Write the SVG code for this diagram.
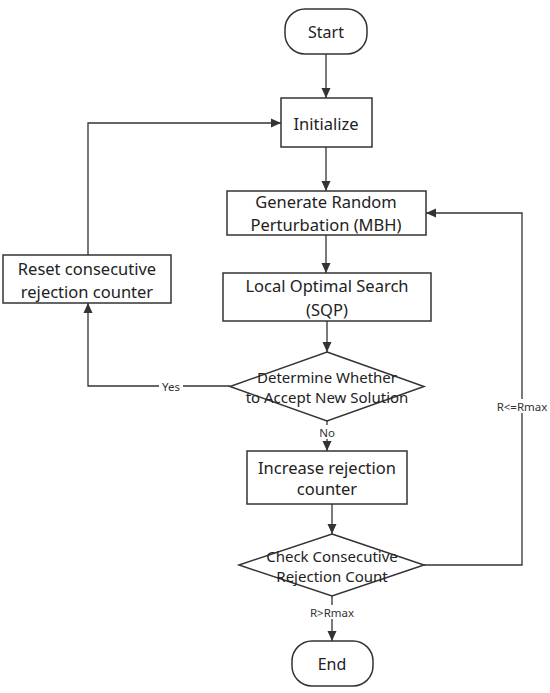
<svg xmlns="http://www.w3.org/2000/svg" width="550" height="693" viewBox="0 0 550 693">
<defs>
<marker id="arr" viewBox="0 0 10 10" refX="10" refY="5" markerWidth="10" markerHeight="10" markerUnits="userSpaceOnUse" orient="auto">
<path d="M0,0.5 L10,5 L0,9.5 Z" fill="#333"/>
</marker>
</defs>
<style>
.n{fill:#fff;stroke:#333;stroke-width:1.5}
.t{font-family:"Noto Sans","Open Sans",sans-serif;font-size:16.5px;fill:#222;text-anchor:middle;dominant-baseline:central}
.d{font-size:15px}
.e{font-size:16px}
.c{fill:none;stroke:#333;stroke-width:1.3;marker-end:url(#arr)}
.l{font-family:"Noto Sans","Open Sans",sans-serif;font-size:11.5px;fill:#333;text-anchor:middle;dominant-baseline:central}
.bg{fill:#fff}
</style>
<rect width="550" height="693" fill="#fff"/>
<g id="connectors">
<path class="c" d="M326,54 V98"/>
<path class="c" d="M326,147 V191"/>
<path class="c" d="M326,235 V273"/>
<path class="c" d="M327,321 V352"/>
<path class="c" d="M327,421 V451"/>
<path class="c" d="M332,504 V534"/>
<path class="c" d="M332,596 V641"/>
<path class="c" d="M230,386 H88 V303"/>
<path class="c" d="M88,255 V123 H281"/>
<path class="c" d="M424,565 H522 V213 H426"/>
<rect class="bg" x="159" y="379" width="24" height="14"/>
<text class="l" x="171" y="386">Yes</text>
<rect class="bg" x="316" y="425" width="22" height="14"/>
<text class="l" x="327" y="432">No</text>
<rect class="bg" x="308" y="605" width="48" height="14"/>
<text class="l" x="332" y="612">R&gt;Rmax</text>
<rect class="bg" x="494" y="399" width="56" height="14"/>
<text class="l" x="522" y="406">R&lt;=Rmax</text>
</g>
<g id="start">
<rect class="n" x="285" y="9" width="82" height="45" rx="20"/>
<text class="t e" x="326" y="32">Start</text>
</g>
<g id="initialize">
<rect class="n" x="281" y="98" width="91" height="49"/>
<text class="t" x="326" y="123">Initialize</text>
</g>
<g id="generate">
<rect class="n" x="227" y="191" width="199" height="44"/>
<text class="t" x="326" y="201.5">Generate Random</text>
<text class="t" x="326" y="224.5">Perturbation (MBH)</text>
</g>
<g id="local">
<rect class="n" x="223" y="273" width="208" height="48"/>
<text class="t" x="327" y="285">Local Optimal Search</text>
<text class="t" x="327" y="309">(SQP)</text>
</g>
<g id="reset">
<rect class="n" x="3" y="255" width="168" height="48"/>
<text class="t" x="87" y="268">Reset consecutive</text>
<text class="t" x="87" y="291">rejection counter</text>
</g>
<g id="determine">
<polygon class="n" points="327,352 424,386.5 327,421 230,386.5"/>
<text class="t d" x="327" y="377">Determine Whether</text>
<text class="t d" x="327" y="397">to Accept New Solution</text>
</g>
<g id="increase">
<rect class="n" x="247" y="451" width="160" height="53"/>
<text class="t" x="327" y="467">Increase rejection</text>
<text class="t" x="327" y="488">counter</text>
</g>
<g id="check">
<polygon class="n" points="332,534 424,565 332,596 239,565"/>
<text class="t d" x="332" y="556">Check Consecutive</text>
<text class="t d" x="332" y="576">Rejection Count</text>
</g>
<g id="end">
<rect class="n" x="292" y="641" width="81" height="45" rx="20"/>
<text class="t e" x="332" y="664">End</text>
</g>
</svg>
